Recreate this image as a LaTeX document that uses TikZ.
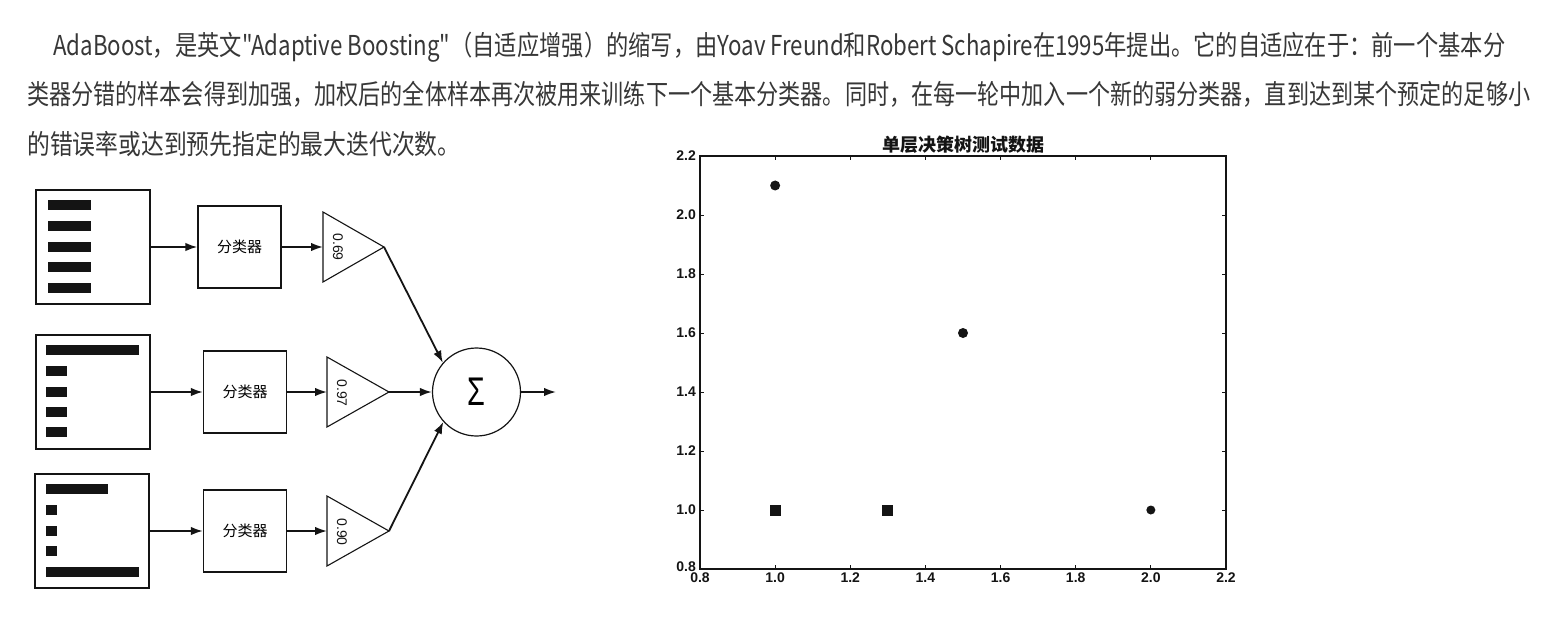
\documentclass[tikz,border=0pt]{standalone}
\usepackage{fontspec}
\newfontfamily\cjk{Noto Sans CJK SC}
\newfontfamily\lsans{Liberation Sans}
\usetikzlibrary{arrows.meta}
\definecolor{txt}{RGB}{55,55,55}
\definecolor{ink}{RGB}{20,20,20}
\begin{document}
\begin{tikzpicture}[x=1pt,y=-1pt,
 arr/.style={-{Latex[length=12pt,width=8.5pt]}, line width=1.8pt, draw=ink},
 databox/.style={draw=ink, line width=1.5pt, minimum width=114pt, minimum height=114pt, inner sep=0},
 clsbox/.style={draw=ink, line width=1.3pt, minimum width=83pt, minimum height=82pt, inner sep=0, font=\cjk\fontsize{15}{15}\selectfont},
 tri/.style={draw=ink, line width=1.1pt},
 wlabel/.style={font=\lsans\fontsize{14}{14}\selectfont, rotate=-90, inner sep=0, text=ink},
 para/.style={anchor=base west, inner sep=0, text=txt, font=\cjk\fontsize{22.8}{22.8}\selectfont},
 ticklab/.style={font=\lsans\bfseries\fontsize{14}{14}\selectfont, inner sep=0, text=ink},
 dot/.style={circle, fill=ink, inner sep=0, minimum size=10pt},
 sqr/.style={rectangle, fill=ink, inner sep=0, minimum size=11pt},
]
\useasboundingbox[fill=white] (0,0) rectangle (1552,618);

% ---------- paragraph ----------
\node[para] (l1) at (53,56) {\scalebox{1}[1.2]{\resizebox{1452pt}{\height}{AdaBoost，是英文"Adaptive Boosting"（自适应增强）的缩写，由Yoav Freund和Robert Schapire在1995年提出。它的自适应在于：前一个基本分}}};
\node[para] (l2) at (27,105) {\scalebox{1}[1.2]{\resizebox{1503pt}{\height}{类器分错的样本会得到加强，加权后的全体样本再次被用来训练下一个基本分类器。同时，在每一轮中加入一个新的弱分类器，直到达到某个预定的足够小}}};
\node[para] (l3) at (27,154) {\scalebox{1}[1.2]{的错误率或达到预先指定的最大迭代次数。}};

% ---------- data boxes ----------
\node[databox] (d1) at (93,247) {};
\node[databox] (d2) at (93,392) {};
\node[databox] (d3) at (92,531) {};
\foreach \yy in {200,220.75,241.5,262.25,283} \fill[ink] (48,\yy) rectangle (91,\yy+10);
\fill[ink] (46,345) rectangle (139,355);
\foreach \yy in {366,386.5,407,427} \fill[ink] (46,\yy) rectangle (67,\yy+10);
\fill[ink] (46,484) rectangle (108,494);
\foreach \yy in {505,525.5,546} \fill[ink] (46,\yy) rectangle (57,\yy+10);
\fill[ink] (46,567) rectangle (139,577);

% ---------- classifiers ----------
\node[clsbox] (c1) at (239.5,247) {分类器};
\node[clsbox] (c2) at (245,392) {分类器};
\node[clsbox] (c3) at (245,531) {分类器};

% ---------- weight triangles ----------
\coordinate (t1in) at (323,247); \coordinate (t1out) at (384,247);
\coordinate (t2in) at (327,392); \coordinate (t2out) at (389,392);
\coordinate (t3in) at (327,531); \coordinate (t3out) at (389,531);
\draw[tri] (323,212) -- (t1out) -- (323,282) -- cycle;
\draw[tri] (327,357) -- (t2out) -- (327,427) -- cycle;
\draw[tri] (327,496) -- (t3out) -- (327,566) -- cycle;
\node[wlabel] (w1) at (338,247) {0.69};
\node[wlabel] (w2) at (342,393) {0.97};
\node[wlabel] (w3) at (342,532) {0.90};

% ---------- sum ----------
\node[circle, draw=ink, line width=1.2pt, minimum size=88pt, inner sep=0] (sum) at (476.5,392)
  {\lsans\fontsize{40}{40}\selectfont\scalebox{0.72}[1]{Σ}};
\coordinate (out) at (556,392);

% ---------- connectors ----------
\draw[arr] (d1) -- (c1);
\draw[arr] (d2) -- (c2);
\draw[arr] (d3) -- (c3);
\draw[arr] (c1) -- (t1in);
\draw[arr] (c2) -- (t2in);
\draw[arr] (c3) -- (t3in);
\draw[arr] (t1out) -- (sum.139);
\draw[arr] (t2out) -- (sum);
\draw[arr] (t3out) -- (sum.222);
\draw[arr] (sum) -- (out);

% ---------- scatter plot ----------
\begin{scope}[x=375.7pt, y=295pt, shift={(399.44pt,-805pt)}]
  \draw[ink, line width=1.6pt] (0.8,0.8) rectangle (2.2,2.2);
  \foreach \v in {1.0,1.2,1.4,1.6,1.8,2.0} {
    \draw[ink, line width=1pt] (\v,0.8) -- ++(0,4pt);
    \draw[ink, line width=1pt] (\v,2.2) -- ++(0,-4pt);
    \draw[ink, line width=1pt] (0.8,\v) -- ++(4pt,0);
    \draw[ink, line width=1pt] (2.2,\v) -- ++(-4pt,0);
  }
  \foreach \v in {0.8,1.0,1.2,1.4,1.6,1.8,2.0,2.2} {
    \node[ticklab, anchor=north] at ([yshift=-4pt]\v,0.8) {\v};
  }
  \foreach \v in {1.0,1.2,1.4,1.6,1.8,2.0,2.2} {
    \node[ticklab, anchor=east] at ([xshift=-4pt]0.8,\v) {\v};
  }
  \node[ticklab, anchor=east] at ([xshift=-4pt,yshift=2pt]0.8,0.8) {0.8};
  \node[font=\cjk\bfseries\fontsize{18}{18}\selectfont, anchor=base, inner sep=0, text=ink] (title) at ([yshift=5pt]1.5,2.2) {单层决策树测试数据};
  \node[dot] (p1) at (1.0,2.1) {};
  \node[dot] (p2) at (1.5,1.6) {};
  \node[dot, minimum size=9pt] (p3) at (2.0,1.0) {};
  \node[sqr] (s1) at (1.0,1.0) {};
  \node[sqr] (s2) at (1.3,1.0) {};
\end{scope}
\end{tikzpicture}
\end{document}
